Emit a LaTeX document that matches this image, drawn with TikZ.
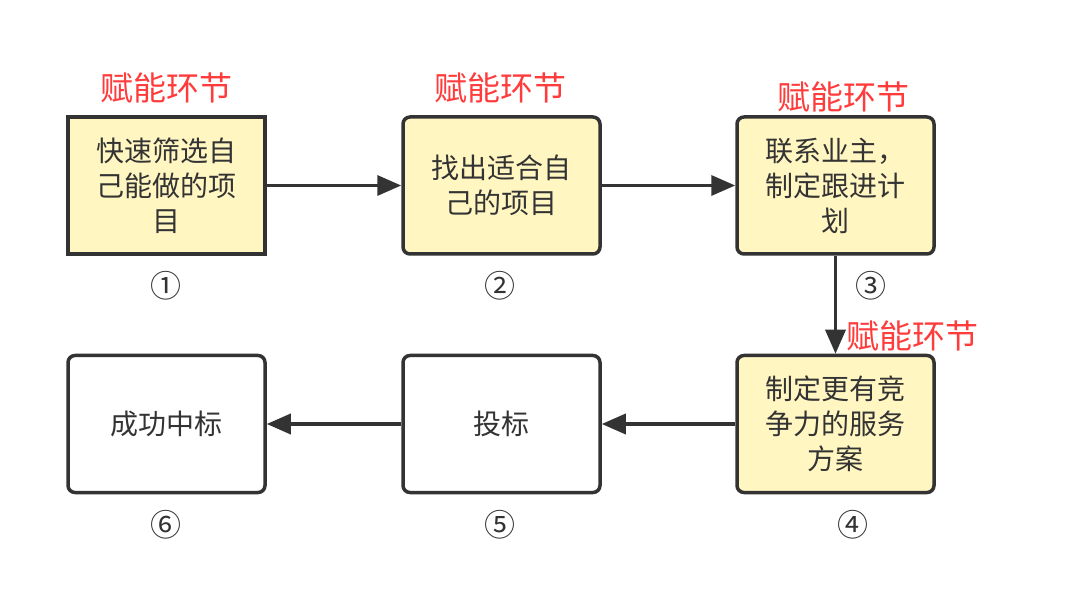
\documentclass[tikz,border=0pt]{standalone}
\usepackage{fontspec}
\setmainfont{Noto Sans CJK SC}
\usetikzlibrary{arrows.meta}
\definecolor{txt}{HTML}{333333}
\definecolor{boxfill}{HTML}{FFF6C2}
\definecolor{redlab}{HTML}{FF3B3B}
\tikzset{
  stepbox/.style={draw=txt, line width=3.5pt, minimum width=197pt, minimum height=137pt, inner sep=0pt, align=center, text=txt, font=\fontsize{28}{35}\selectfont},
  ybox/.style={stepbox, fill=boxfill},
  wbox/.style={stepbox, fill=white},
  rnd/.style={rounded corners=7pt},
  redlabel/.style={text=redlab, font=\fontsize{33}{38}\selectfont, inner sep=0pt},
  numlabel/.style={text=txt, font=\fontsize{31}{34}\selectfont, inner sep=0pt},
  conn/.style={draw=txt, line width=3.5pt, -{Triangle[length=24pt,width=20pt]}}
}
\begin{document}
\begin{tikzpicture}[x=1pt,y=-1pt]
\useasboundingbox (0,0) rectangle (1080,612);
\node[ybox] (b1) at (166.5,185.5) {快速筛选自\\己能做的项\\目};
\node[ybox,rnd] (b2) at (501.5,185.5) {找出适合自\\己的项目};
\node[ybox,rnd] (b3) at (835.5,185.5) {联系业主，\\制定跟进计\\划};
\node[ybox,rnd] (b4) at (835.5,424) {制定更有竞\\争力的服务\\方案};
\node[wbox,rnd] (b5) at (501.5,424) {投标};
\node[wbox,rnd] (b6) at (166.5,424) {成功中标};
\node[redlabel] (r1) at (166,88) {赋能环节};
\node[redlabel] (r2) at (500,88) {赋能环节};
\node[redlabel] (r3) at (843,97) {赋能环节};
\node[redlabel] (r4) at (912,336) {赋能环节};
\node[numlabel] (n1) at (166,286) {①};
\node[numlabel] (n2) at (500,286) {②};
\node[numlabel] (n3) at (871,286) {③};
\node[numlabel] (n4) at (853,525) {④};
\node[numlabel] (n5) at (500,525) {⑤};
\node[numlabel] (n6) at (166,525) {⑥};
\draw[conn] (b1.east) -- (b2.west);
\draw[conn] (b2.east) -- (b3.west);
\draw[conn] (b3.south) -- (b4.north);
\draw[conn] (b4.west) -- (b5.east);
\draw[conn] (b5.west) -- (b6.east);
\end{tikzpicture}
\end{document}
